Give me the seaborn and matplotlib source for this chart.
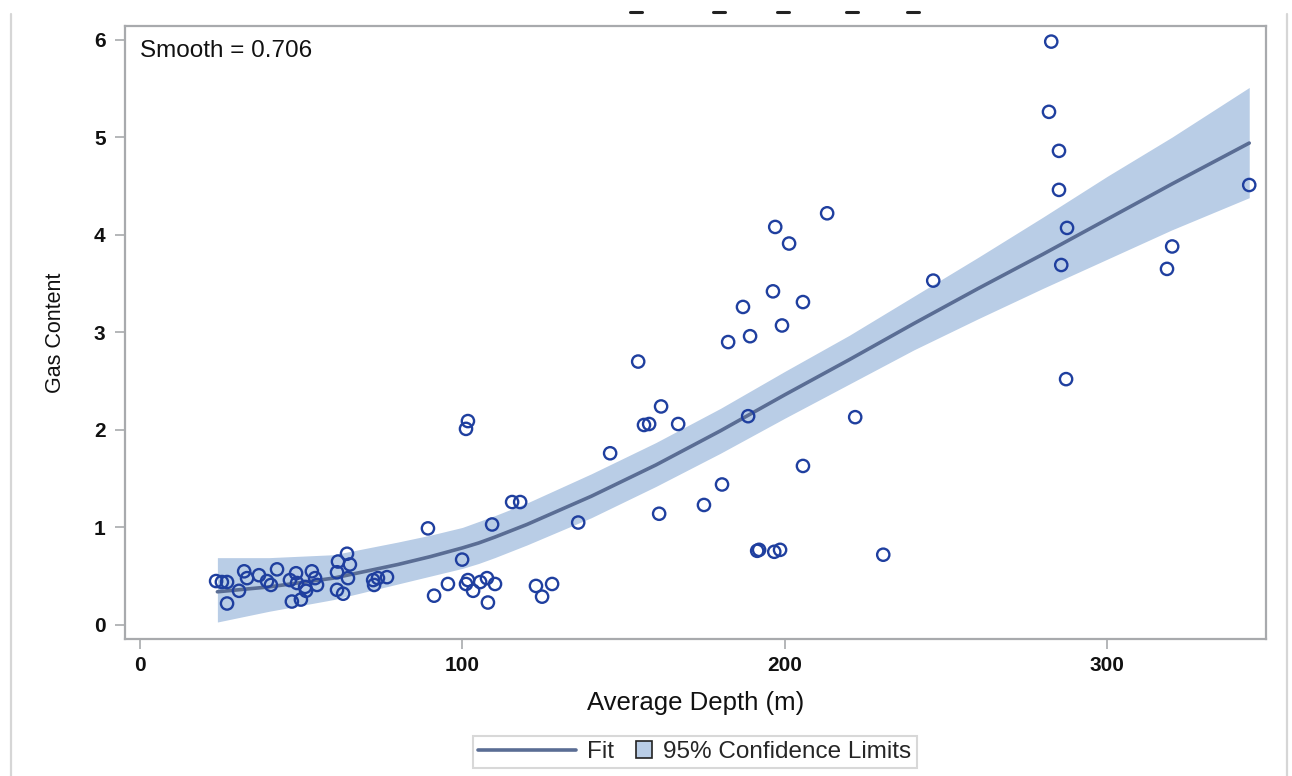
import numpy as np
import pandas as pd
import matplotlib
matplotlib.use("Agg")
import matplotlib.pyplot as plt
import seaborn as sns
from matplotlib.lines import Line2D
from matplotlib.patches import Rectangle
from matplotlib.legend_handler import HandlerPatch

# ---------------- data ----------------
depth = [23.6, 25.4, 27.0, 27.0, 30.7, 32.3, 33.2, 36.9, 39.4, 40.6, 42.5, 47.1, 49.9, 46.5,
         48.4, 48.7, 51.2, 53.3, 54.3, 54.9, 51.5, 61.1, 61.4, 64.2, 65.1, 64.5, 61.1, 63.0,
         72.3, 72.6, 73.8, 76.6,
         89.3, 99.9, 91.2, 95.5, 101.7, 101.1, 103.3, 105.5, 107.6, 110.1, 107.9, 122.8, 127.8,
         124.7, 101.7, 101.1, 109.2, 115.4, 117.9, 135.9, 145.8, 154.5, 156.3, 157.9, 161.6,
         166.9, 161.0, 174.9, 180.5,
         182.4, 187.0, 189.2, 188.6, 191.4, 192.0, 196.7, 198.5, 196.3, 197.0, 199.1, 201.3,
         205.6, 205.6, 213.1, 221.8, 230.5, 246.0, 281.9, 282.6, 285.0, 285.0, 285.7, 287.5,
         287.2, 318.5, 320.1, 344.0]
gas = [0.45, 0.44, 0.44, 0.22, 0.35, 0.55, 0.48, 0.51, 0.45, 0.41, 0.57, 0.24, 0.26, 0.46,
       0.53, 0.43, 0.39, 0.55, 0.48, 0.41, 0.35, 0.54, 0.65, 0.73, 0.62, 0.48, 0.36, 0.32,
       0.46, 0.41, 0.48, 0.49,
       0.99, 0.67, 0.30, 0.42, 0.46, 0.42, 0.35, 0.44, 0.48, 0.42, 0.23, 0.40, 0.42,
       0.29, 2.09, 2.01, 1.03, 1.26, 1.26, 1.05, 1.76, 2.70, 2.05, 2.06, 2.24,
       2.06, 1.14, 1.23, 1.44,
       2.90, 3.26, 2.96, 2.14, 0.76, 0.77, 0.75, 0.77, 3.42, 4.08, 3.07, 3.91,
       3.31, 1.63, 4.22, 2.13, 0.72, 3.53, 5.26, 5.98, 4.86, 4.46, 3.69, 4.07,
       2.52, 3.65, 3.88, 4.51]

fit_depth = [24, 40, 60, 80, 90, 100, 105, 110, 120, 140, 160, 180, 200, 220, 240, 260, 280,
             300, 320, 344]
fit_gas   = [0.34, 0.39, 0.48, 0.62, 0.70, 0.79, 0.84, 0.90, 1.03, 1.32, 1.64, 1.99, 2.36, 2.72,
             3.09, 3.45, 3.80, 4.16, 4.52, 4.94]
ci_lower  = [0.03, 0.14, 0.26, 0.42, 0.50, 0.58, 0.63, 0.69, 0.82, 1.10, 1.42, 1.76, 2.12, 2.47,
             2.82, 3.14, 3.45, 3.75, 4.05, 4.38]
ci_upper  = [0.69, 0.69, 0.72, 0.85, 0.92, 1.00, 1.06, 1.12, 1.25, 1.55, 1.87, 2.22, 2.60, 2.97,
             3.37, 3.77, 4.18, 4.60, 5.00, 5.51]

x_ticks = [0, 100, 200, 300]
y_ticks = [0, 1, 2, 3, 4, 5, 6]
smooth_label = "Smooth = 0.706"
x_label = "Average Depth (m)"
y_label = "Gas Content"

# ---------------- style ----------------
sns.set_style("white")
plt.rcParams['font.family'] = ['Liberation Sans', 'DejaVu Sans']

W, H = 1292, 776
fig = plt.figure(figsize=(W / 100, H / 100), dpi=100)
ax = fig.add_axes([125 / W, 1 - 639 / H, (1266 - 125) / W, (639 - 26) / H])

band_col = '#b9cde6'
line_col = '#5a6d94'
pt_col = '#1f3f9f'
spine_col = '#a8aaad'

pts = pd.DataFrame({"depth": depth, "gas": gas})
fit = pd.DataFrame({"depth": fit_depth, "gas": fit_gas, "lo": ci_lower, "hi": ci_upper})

ax.fill_between(fit["depth"], fit["lo"], fit["hi"], color=band_col, lw=0, zorder=1)
sns.lineplot(data=fit, x="depth", y="gas", ax=ax, color=line_col, lw=2.6, zorder=2)
sns.scatterplot(data=pts, x="depth", y="gas", ax=ax, marker='o', s=78,
                facecolor='none', edgecolor=pt_col, linewidth=1.7, zorder=3)

ax.set_xlim(-4.65, 349.2)
ax.set_ylim(-0.144, 6.14)
ax.set_xticks(x_ticks)
ax.set_yticks(y_ticks)
ax.tick_params(axis='both', which='major', bottom=True, left=True, direction='out',
               length=7, width=1.2, color=spine_col, labelsize=15, labelcolor='#111111', pad=5)
ax.tick_params(axis='y', pad=7)
for lab in ax.get_xticklabels() + ax.get_yticklabels():
    lab.set_fontweight('semibold')
for s in ax.spines.values():
    s.set_color(spine_col)
    s.set_linewidth(1.6)

ax.set_xlabel(x_label, fontsize=18.5, labelpad=12, color='#111111')
ax.set_ylabel(y_label, fontsize=15.5, labelpad=20, color='#111111')

ax.text(0.013, 0.977, smooth_label, transform=ax.transAxes, fontsize=17.5,
        ha='left', va='top', color='#111111')

# ---------------- legend ----------------
def make_square(legend, orig_handle, xdescent, ydescent, width, height, fontsize):
    s = 12.0
    return Rectangle((-xdescent + width - s, -ydescent + (height - s) / 2), s, s)

fit_handle = Line2D([], [], color=line_col, lw=2.6)
band_handle = Rectangle((0, 0), 1, 1, facecolor=band_col, edgecolor='#222222', lw=1.2)
leg = fig.legend([fit_handle, band_handle], ["Fit", "95% Confidence Limits"],
                 loc='center', bbox_to_anchor=(695 / W, 1 - 752 / H), ncol=2,
                 fontsize=17.5, handlelength=4.0, handletextpad=0.45,
                 columnspacing=-2.4, frameon=True, fancybox=False, borderpad=0.22,
                 handler_map={Rectangle: HandlerPatch(patch_func=make_square)})
leg.get_frame().set_edgecolor('#cfcfcf')
leg.get_frame().set_linewidth(1.5)

# ---------------- page decorations ----------------
for xp in (11, 1287):
    fig.add_artist(Line2D([xp / W, xp / W], [0, 1 - 14 / H], transform=fig.transFigure,
                          color='#d6d6d6', lw=1.6))
for xp in (636, 719, 783, 852, 913):
    fig.add_artist(Line2D([(xp - 6) / W, (xp + 6) / W], [1 - 12 / H, 1 - 12 / H],
                          transform=fig.transFigure, color='#222222', lw=2.2))

fig.savefig("out.png", dpi=100, facecolor='white')
